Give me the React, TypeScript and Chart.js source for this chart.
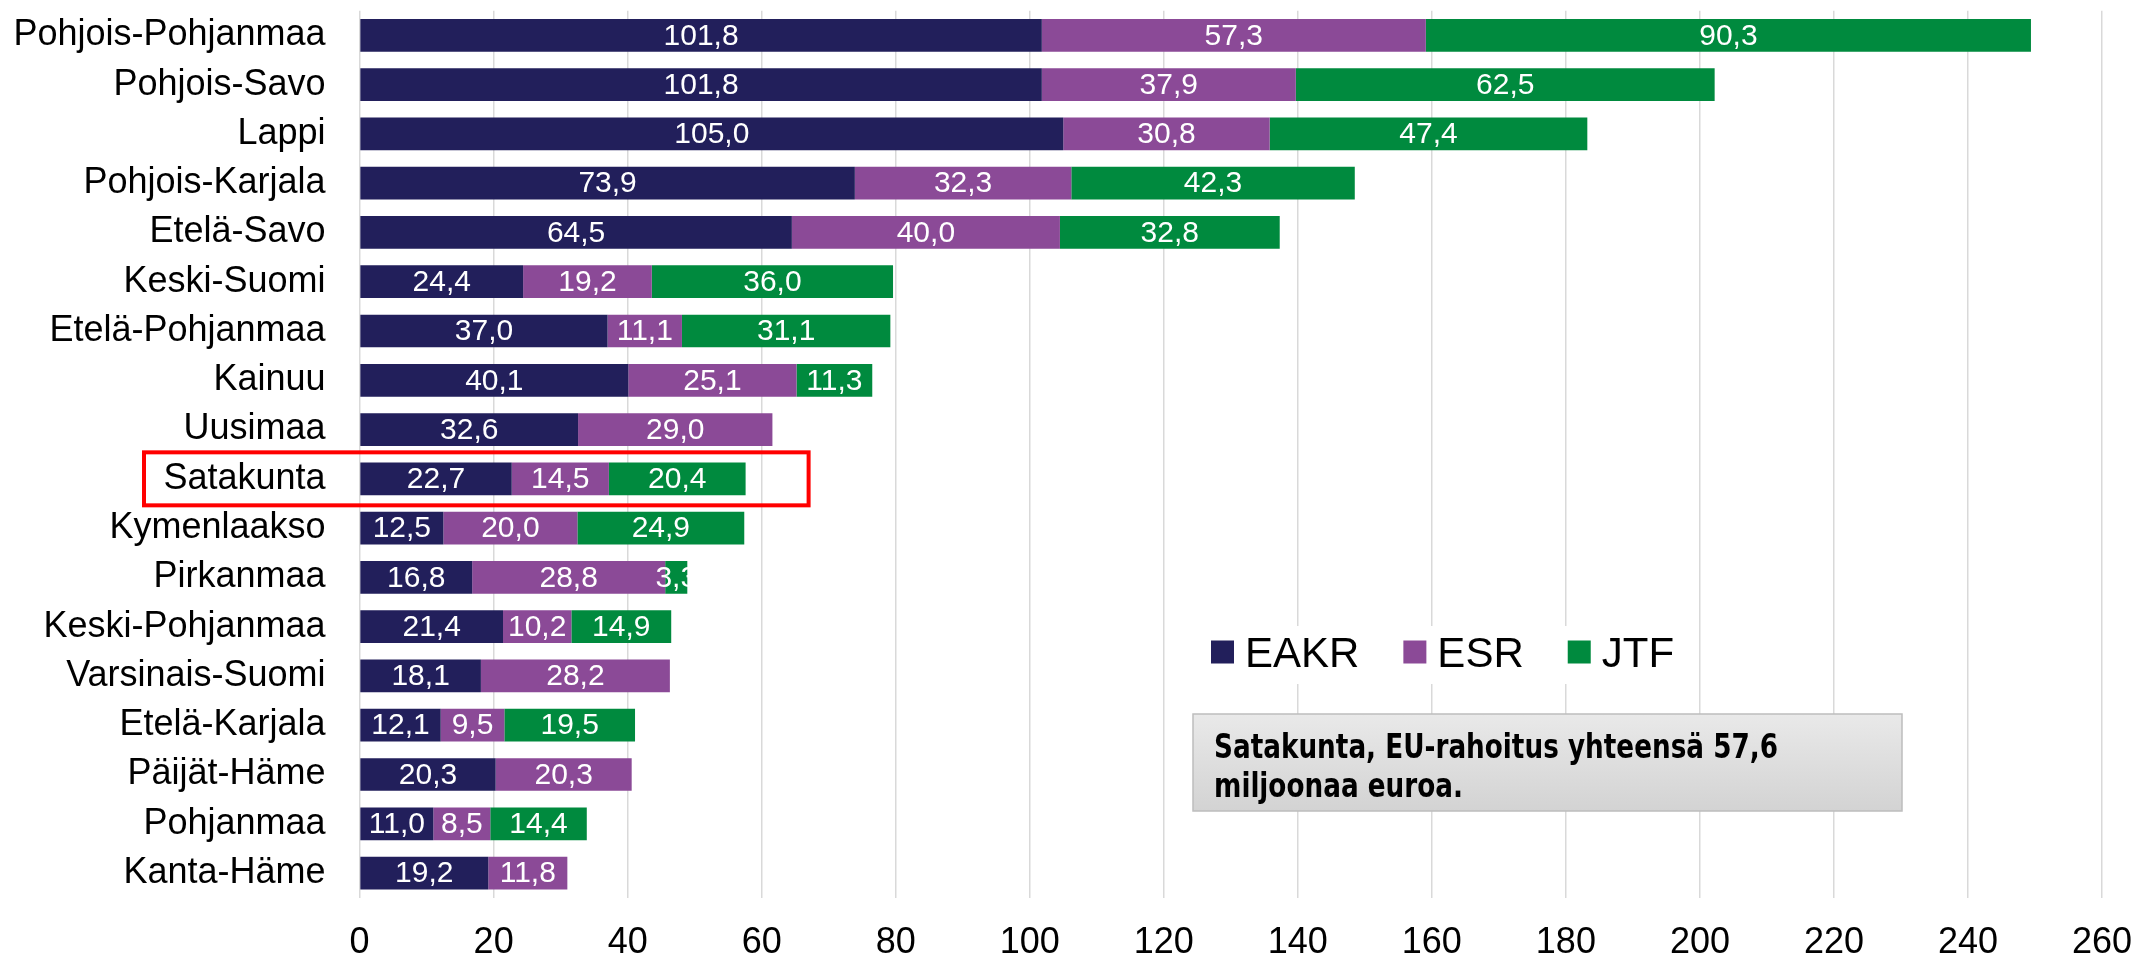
import React, { useEffect, useRef } from "react";
import { Chart, registerables } from "chart.js";

Chart.register(...registerables);

const categories = [
  "Pohjois-Pohjanmaa",
  "Pohjois-Savo",
  "Lappi",
  "Pohjois-Karjala",
  "Etelä-Savo",
  "Keski-Suomi",
  "Etelä-Pohjanmaa",
  "Kainuu",
  "Uusimaa",
  "Satakunta",
  "Kymenlaakso",
  "Pirkanmaa",
  "Keski-Pohjanmaa",
  "Varsinais-Suomi",
  "Etelä-Karjala",
  "Päijät-Häme",
  "Pohjanmaa",
  "Kanta-Häme",
];

const eakr = [101.8, 101.8, 105.0, 73.9, 64.5, 24.4, 37.0, 40.1, 32.6, 22.7, 12.5, 16.8, 21.4, 18.1, 12.1, 20.3, 11.0, 19.2];
const esr = [57.3, 37.9, 30.8, 32.3, 40.0, 19.2, 11.1, 25.1, 29.0, 14.5, 20.0, 28.8, 10.2, 28.2, 9.5, 20.3, 8.5, 11.8];
const jtf = [90.3, 62.5, 47.4, 42.3, 32.8, 36.0, 31.1, 11.3, null, 20.4, 24.9, 3.3, 14.9, null, 19.5, null, 14.4, null];

const seriesNames = ["EAKR", "ESR", "JTF"];
const seriesColors = ["#221F5B", "#8B4A97", "#008A3E"];

const xTicks = [0, 20, 40, 60, 80, 100, 120, 140, 160, 180, 200, 220, 240, 260];

const highlightCategory = "Satakunta";
const highlightEndValue = 67;
const noteLines = ["Satakunta, EU-rahoitus yhteensä 57,6", "miljoonaa euroa."];

const FONT = '"Liberation Sans", Arial, Helvetica, sans-serif';

const fmt = (v: number) => v.toFixed(1).replace(".", ",");

const barLabelsPlugin = {
  id: "barLabels",
  afterDatasetsDraw(chart: any) {
    const ctx = chart.ctx;
    ctx.save();
    ctx.font = `30px ${FONT}`;
    ctx.fillStyle = "#ffffff";
    ctx.textAlign = "center";
    ctx.textBaseline = "middle";
    chart.data.datasets.forEach((ds: any, di: number) => {
      const meta = chart.getDatasetMeta(di);
      meta.data.forEach((el: any, i: number) => {
        const v = ds.data[i];
        if (v == null) return;
        const p = el.getProps(["x", "base", "y"], true);
        ctx.fillText(fmt(v), (p.x + p.base) / 2, p.y + 1);
      });
    });
    ctx.restore();
  },
};

const highlightPlugin = {
  id: "highlight",
  afterDraw(chart: any) {
    const idx = categories.indexOf(highlightCategory);
    if (idx < 0) return;
    const yScale = chart.scales.y;
    const xScale = chart.scales.x;
    const cy = yScale.getPixelForValue(idx);
    const ctx = chart.ctx;
    ctx.save();
    ctx.strokeStyle = "#FF0000";
    ctx.lineWidth = 4;
    const left = 144;
    const right = xScale.getPixelForValue(highlightEndValue);
    ctx.strokeRect(left, cy - 26.5, right - left, 53);
    ctx.restore();
  },
};

const legendPlugin = {
  id: "customLegend",
  afterDraw(chart: any) {
    const ctx = chart.ctx;
    ctx.save();
    ctx.fillStyle = "#ffffff";
    ctx.fillRect(1196, 626, 494, 58);
    ctx.font = `42px ${FONT}`;
    ctx.textBaseline = "alphabetic";
    ctx.textAlign = "left";
    let x = 1211;
    const box = 23;
    const cy = 652;
    chart.data.datasets.forEach((ds: any) => {
      ctx.fillStyle = ds.backgroundColor;
      ctx.fillRect(x, cy - box / 2, box, box);
      ctx.fillStyle = "#000000";
      const tx = x + box + 11;
      ctx.fillText(ds.label, tx, cy + 15);
      x = tx + ctx.measureText(ds.label).width + 44;
    });
    ctx.restore();
  },
};

const notePlugin = {
  id: "noteBox",
  afterDraw(chart: any) {
    const ctx = chart.ctx;
    ctx.save();
    const bx = 1193, by = 714, bw = 709, bh = 97;
    const g = ctx.createLinearGradient(0, by, 0, by + bh);
    g.addColorStop(0, "#E9E9E9");
    g.addColorStop(1, "#D3D3D3");
    ctx.fillStyle = g;
    ctx.fillRect(bx, by, bw, bh);
    ctx.strokeStyle = "#BDBDBD";
    ctx.lineWidth = 1.5;
    ctx.strokeRect(bx, by, bw, bh);
    const fam = '"DejaVu Sans Condensed", "DejaVu Sans", sans-serif';
    ctx.font = `bold 33px ${fam}`;
    const w = ctx.measureText(noteLines[0]).width;
    const sx = 564 / w;
    ctx.fillStyle = "#000000";
    ctx.textAlign = "left";
    ctx.textBaseline = "middle";
    ctx.translate(1214, 0);
    ctx.scale(sx, 1);
    ctx.fillText(noteLines[0], 0, 749);
    ctx.fillText(noteLines[1], 0, 788);
    ctx.restore();
  },
};

export default function App() {
  const ref = useRef<HTMLCanvasElement | null>(null);

  useEffect(() => {
    if (!ref.current) return;
    const seriesData = [eakr, esr, jtf];
    const chart = new Chart(ref.current, {
      type: "bar",
      data: {
        labels: categories,
        datasets: seriesNames.map((name, i) => ({
          label: name,
          data: seriesData[i],
          backgroundColor: seriesColors[i],
          borderWidth: 0,
          categoryPercentage: 1,
          barPercentage: 0.664,
        })),
      },
      options: {
        indexAxis: "y",
        responsive: false,
        animation: false,
        devicePixelRatio: 1,
        layout: { padding: { top: 10.7, right: 34, left: 0, bottom: 0 } },
        plugins: {
          legend: { display: false },
          tooltip: { enabled: false },
        },
        scales: {
          x: {
            stacked: true,
            min: 0,
            max: 260,
            afterBuildTicks: (s: any) => {
              s.ticks = xTicks.map((v) => ({ value: v }));
            },
            afterFit: (s: any) => {
              s.height = 60.3;
              s.paddingLeft = 0;
              s.paddingRight = 0;
              s.paddingTop = 0;
              s.paddingBottom = 0;
            },
            grid: {
              color: "#D9D9D9",
              lineWidth: 1.5,
              drawTicks: false,
            },
            border: { display: false },
            ticks: {
              color: "#000000",
              font: { size: 36, family: FONT },
              padding: 24,
              maxRotation: 0,
              autoSkip: false,
              callback: (v: any) => String(v),
            },
          },
          y: {
            stacked: true,
            afterFit: (s: any) => {
              s.width = 359.6;
              s.paddingLeft = 0;
              s.paddingRight = 0;
              s.paddingTop = 0;
              s.paddingBottom = 0;
            },
            grid: { display: false, drawTicks: false },
            border: { display: false },
            ticks: {
              color: "#000000",
              font: { size: 36, family: FONT },
              padding: 34,
              autoSkip: false,
            },
          },
        },
      },
      plugins: [barLabelsPlugin, highlightPlugin, legendPlugin, notePlugin],
    } as any);
    return () => chart.destroy();
  }, []);

  return (
    <div style={{ position: "fixed", left: 0, top: 0, width: 2136, height: 958, background: "#ffffff" }}>
      <canvas ref={ref} width={2136} height={958} style={{ width: 2136, height: 958, display: "block" }} />
    </div>
  );
}
